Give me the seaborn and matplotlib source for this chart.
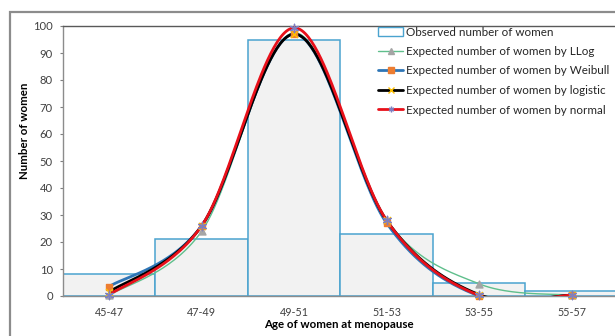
import numpy as np
import pandas as pd
import matplotlib
matplotlib.use("Agg")
import matplotlib.pyplot as plt
from matplotlib.lines import Line2D
from matplotlib.patches import Patch, Rectangle
import seaborn as sns

# Age classes and observed counts
age_groups = ["45-47", "47-49", "49-51", "51-53", "53-55", "55-57"]
observed = [8, 21, 95, 23, 5, 2]

# Expected counts from the fitted distributions
expected_llog = [0.2, 24, 97.5, 28, 4.5, 0.3]
expected_weibull = [3.5, 26, 97, 27, 0.0, 0.3]
expected_logistic = [1.5, 26, 97, 28, 0.5, 0.3]
expected_normal = [0.4, 26, 99.3, 28, 0.2, 0.3]

y_ticks = list(range(0, 101, 10))

sns.set_theme(style="white")
plt.rcParams["font.family"] = ["Lato", "DejaVu Sans"]

W, H = 615, 336
DPI = 100
PX = 72.0 / DPI  # points per pixel


def smooth_curve(xs, ys, n=60):
    """Bezier smoothing through the points (spreadsheet-style smoothed line)."""
    pts = np.column_stack([xs, ys]).astype(float)
    out = []
    m = len(pts)
    for i in range(m - 1):
        p0 = pts[i - 1] if i > 0 else pts[i]
        p1, p2 = pts[i], pts[i + 1]
        p3 = pts[i + 2] if i + 2 < m else pts[i + 1]
        c1 = p1 + (p2 - p0) / 6.0
        c2 = p2 - (p3 - p1) / 6.0
        t = np.linspace(0, 1, n)[:, None]
        seg = ((1 - t) ** 3) * p1 + 3 * ((1 - t) ** 2) * t * c1 + 3 * (1 - t) * t ** 2 * c2 + t ** 3 * p2
        out.append(seg if i == 0 else seg[1:])
    out = np.vstack(out)
    return out[:, 0], out[:, 1]


fig = plt.figure(figsize=(W / DPI, H / DPI), dpi=DPI)
renderer = fig.canvas.get_renderer()


def text_box(s, size, weight="normal"):
    t = fig.text(0, 0, s, fontsize=size, fontweight=weight)
    bb = t.get_window_extent(renderer)
    t.remove()
    return bb.width, bb.height


def size_for_width(s, width_px, weight="normal"):
    w, _ = text_box(s, 10, weight)
    return 10 * width_px / w


# font sizes chosen from the widths the texts should occupy (pixels)
fs_legend = size_for_width("Expected number of women by Weibull", 202)
fs_ylabel = size_for_width("Number of women", 97, "bold")
fs_xlabel = size_for_width("Age of women at menopause", 149, "bold")
fs_xtick = size_for_width("53-55", 29)
fs_ytick = size_for_width("100", 19.5)

ax_left, ax_top, ax_bottom = 63, 26, 296
ax = fig.add_axes([ax_left / W, (H - ax_bottom) / H, (W - ax_left) / W,
                   (ax_bottom - ax_top) / H])
ax_h = ax_bottom - ax_top
ax_w = W - ax_left

df = pd.DataFrame({"age": age_groups, "observed": observed})
sns.barplot(data=df, x="age", y="observed", ax=ax, width=1.0,
            color="#f2f2f2", edgecolor="#4aa3cf", linewidth=1.1, saturation=1)

asterisk = (6, 2, 0)
xpos = np.arange(len(age_groups))
series = [
    ("Expected number of women by LLog", expected_llog, "#5fbf8c", 1.0, "^", "#a5a5a5", 5),
    ("Expected number of women by Weibull", expected_weibull, "#2e75b6", 2.0, "s", "#ed7d31", 5),
    ("Expected number of women by logistic", expected_logistic, "#000000", 2.0, "x", "#ffc000", 5),
    ("Expected number of women by normal", expected_normal, "#e8101a", 2.0, asterisk, "#7f7fbf", 6),
]

handles = [Patch(facecolor="white", edgecolor="#4aa3cf", linewidth=1.0,
                 label="Observed number of women")]
for label, vals, lc, lw, mk, mc, ms in series:
    sx, sy = smooth_curve(xpos, vals)
    sns.lineplot(x=sx, y=sy, ax=ax, color=lc, linewidth=lw, sort=False,
                 estimator=None, zorder=3)
    ax.scatter(xpos, vals, marker=mk, color=mc, s=ms ** 2, zorder=4,
               clip_on=False, linewidths=1.0)
    handles.append(Line2D([0], [0], color=lc, linewidth=lw, marker=mk,
                          markerfacecolor=mc, markeredgecolor=mc, markersize=4,
                          label=label))

ax.set_xlim(-0.5, 5.47)
ax.set_ylim(0, 100)
ax.set_yticks(y_ticks)
ax.set_yticklabels([str(v) for v in y_ticks])

# y tick labels end about 10 px left of the axis, x tick labels centred ~16 px below it
tick_len_px = 3
ax.tick_params(axis="y", left=True, length=tick_len_px * PX, width=0.8,
               color="#7f7f7f", labelsize=fs_ytick, labelcolor="#404040",
               pad=(10 - tick_len_px) * PX)
_, h_xt = text_box("53-55", fs_xtick)
ax.tick_params(axis="x", bottom=False, length=0, labelsize=fs_xtick,
               labelcolor="#404040", pad=max(16 - h_xt / 2, 0) * PX)

for side in ["left", "bottom"]:
    ax.spines[side].set_color("#8c8c8c")
    ax.spines[side].set_linewidth(1.0)
ax.spines["top"].set_color("#595959")
ax.spines["top"].set_linewidth(1.0)
ax.spines["right"].set_visible(False)

ax.set_xlabel("Age of women at menopause", fontsize=fs_xlabel, fontweight="bold",
              color="#000000")
_, h_xl = text_box("Age of women at menopause", fs_xlabel, "bold")
ax.xaxis.set_label_coords(0.5, -((325 - h_xl / 2) - ax_bottom) / ax_h)

ax.set_ylabel("Number of women", fontsize=fs_ylabel, fontweight="bold",
              color="#000000")
_, h_yl = text_box("Number of women", fs_ylabel, "bold")
ax.yaxis.set_label_coords((25 + h_yl / 2 - ax_left) / ax_w, (ax_bottom - 131) / ax_h)

# legend: handles 25 px long from x=378, text from x=406, rows ~19.5 px apart
fs_px = fs_legend / PX
_, h_leg = text_box("Expected number of women by Weibull", fs_legend)
row_pitch = 19.5
fig.legend(handles=handles, loc="upper left",
           bbox_to_anchor=(378 / W, 1 - (32 - h_leg / 2) / H), frameon=False,
           fontsize=fs_legend, handlelength=25 / fs_px, handletextpad=3 / fs_px,
           labelspacing=max(row_pitch - h_leg, 0) / fs_px, borderaxespad=0,
           borderpad=0, labelcolor="#262626")

# outer chart frame
fig.patches.append(Rectangle((10 / W, -0.1), 1.2, 1 - 12 / H + 0.1,
                             transform=fig.transFigure, fill=False,
                             edgecolor="#8c8c8c", linewidth=1.6, zorder=0))

fig.savefig("out.png", dpi=DPI)
